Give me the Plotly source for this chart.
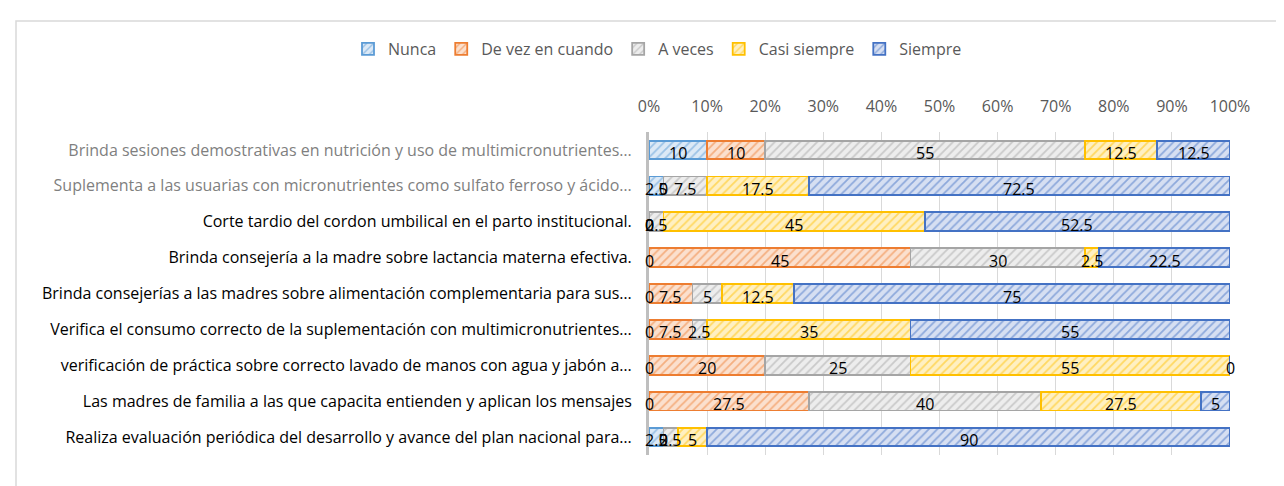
import plotly.graph_objects as go

categories = [
    "Brinda sesiones demostrativas en nutrición y uso de multimicronutrientes…",
    "Suplementa a las usuarias con micronutrientes como sulfato ferroso y ácido…",
    "Corte tardio del cordon umbilical en el parto institucional.",
    "Brinda consejería a la madre sobre lactancia materna efectiva.",
    "Brinda consejerías a las madres sobre alimentación complementaria para sus…",
    "Verifica el consumo correcto de la suplementación con multimicronutrientes…",
    "verificación de práctica sobre correcto lavado de manos con agua y jabón a…",
    "Las madres de familia a las que capacita entienden y aplican los mensajes",
    "Realiza evaluación periódica del desarrollo y avance del plan nacional para…",
]
label_colors = ["#7F7F7F", "#7F7F7F", "#000000", "#000000", "#000000",
                "#000000", "#000000", "#000000", "#000000"]

series_names = ["Nunca", "De vez en cuando", "A veces", "Casi siempre", "Siempre"]
nunca = [10, 2.5, 0, 0, 0, 0, 0, 0, 2.5]
de_vez = [10, 0, 0, 45, 7.5, 7.5, 20, 27.5, 0]
a_veces = [55, 7.5, 2.5, 30, 5, 2.5, 25, 40, 2.5]
casi_siempre = [12.5, 17.5, 45, 2.5, 12.5, 35, 55, 27.5, 5]
siempre = [12.5, 72.5, 52.5, 22.5, 75, 55, 0, 5, 90]
series_values = [nunca, de_vez, a_veces, casi_siempre, siempre]

x_ticks = [0, 10, 20, 30, 40, 50, 60, 70, 80, 90, 100]
x_ticktext = [f"{t}%" for t in x_ticks]

colors = ["#5B9BD5", "#ED7D31", "#A5A5A5", "#FFC000", "#4472C4"]
tints = ["#DCE9F6", "#FBE0CE", "#EDEDED", "#FFF0C2", "#D6DFF2"]

FONT = "Open Sans"
FS = 16
W, H = 1284, 486
ml, mr, mt, mb = 641, 62, 124, 39

fig = go.Figure()
for name, vals, c, t in zip(series_names, series_values, colors, tints):
    fig.add_trace(go.Bar(
        y=categories, x=vals, name=name, orientation="h",
        marker=dict(color=t, line=dict(color=c, width=1.8),
                    pattern=dict(shape="/", fgcolor=c, bgcolor=t, size=6, solidity=0.3)),
        hoverinfo="x+name",
    ))

# data labels centred in each segment
annotations = []
cum = [0.0] * len(categories)
for vals in series_values:
    for i, v in enumerate(vals):
        annotations.append(dict(
            x=cum[i] + v / 2, y=categories[i], xref="x", yref="y",
            text=f"{v:g}", showarrow=False, yshift=-3,
            font=dict(family=FONT, size=FS, color="#000000"),
        ))
        cum[i] += v

ticktext = [f'<span style="color:{lc}">{c}</span>' for c, lc in zip(categories, label_colors)]

pw = W - ml - mr
ph = H - mt - mb


def px_x(p):
    return (p - ml) / pw


def px_y(p):
    return (H - mb - p) / ph


shapes = [dict(
    type="rect", xref="paper", yref="paper",
    x0=px_x(8), x1=px_x(W + 5), y0=px_y(H + 5), y1=px_y(13),
    line=dict(color="#D9D9D9", width=1.5), fillcolor="rgba(0,0,0,0)", layer="below",
)]

fig.update_layout(
    width=W, height=H,
    margin=dict(l=ml, r=mr, t=mt, b=mb),
    barmode="stack", bargap=0.48,
    paper_bgcolor="white", plot_bgcolor="white",
    font=dict(family=FONT, size=FS, color="#595959"),
    legend=dict(orientation="h", x=px_x(340), xanchor="left",
                y=px_y(41), yanchor="middle",
                yref="paper", xref="paper",
                font=dict(family=FONT, size=FS, color="#595959"),
                itemwidth=30, traceorder="normal"),
    annotations=annotations,
    shapes=shapes,
    showlegend=True,
)
fig.update_xaxes(range=[0, 100], side="top", tickvals=x_ticks, ticktext=x_ticktext,
                 showgrid=True, gridcolor="#D9D9D9", gridwidth=1, zeroline=False,
                 showline=False, tickfont=dict(family=FONT, size=FS, color="#595959"),
                 ticklabelstandoff=16, fixedrange=True)
fig.update_yaxes(autorange="reversed", tickvals=categories, ticktext=ticktext,
                 showgrid=False, showline=True, linecolor="#BFBFBF", linewidth=3,
                 tickfont=dict(family=FONT, size=FS), ticklabelstandoff=11,
                 fixedrange=True)

fig.write_html("out.html")
